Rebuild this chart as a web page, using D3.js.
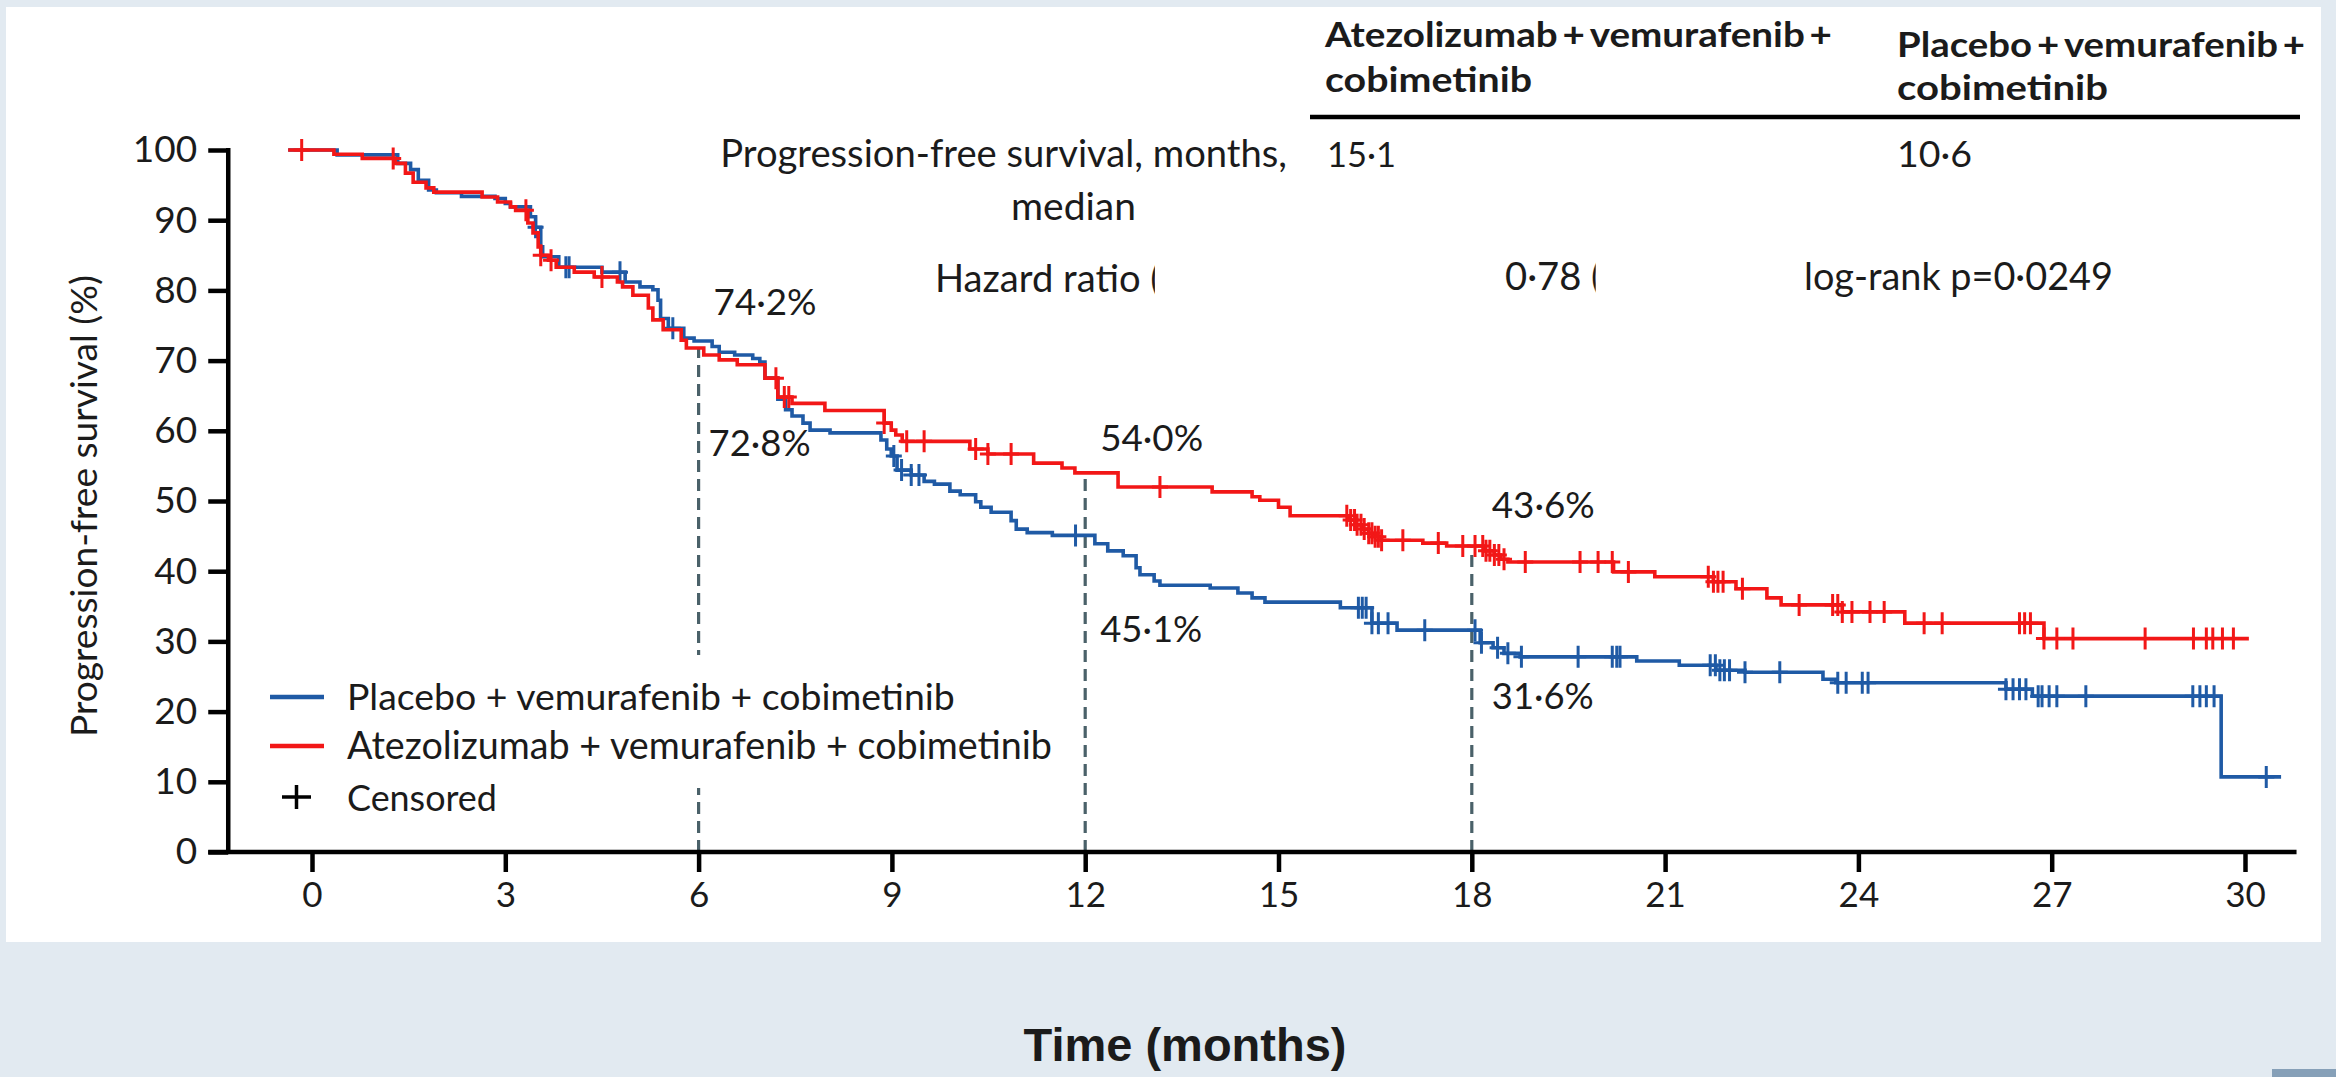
<!DOCTYPE html>
<html>
<head>
<meta charset="utf-8">
<script src="https://cdn.jsdelivr.net/npm/d3@7"></script>
<style>
  html, body { margin: 0; padding: 0; background: #e2eaf1; }
  svg { display: block; }
  text { font-family: Lato, "Open Sans", sans-serif; fill: #1b1b1b; }
</style>
</head>
<body>
<svg id="chart" width="2336" height="1077"></svg>
<script>
// ---- data -------------------------------------------------------------
const timeTicks = [0, 3, 6, 9, 12, 15, 18, 21, 24, 27, 30];
const survTicks = [0, 10, 20, 30, 40, 50, 60, 70, 80, 90, 100];

const seriesNames = [
  "Placebo + vemurafenib + cobimetinib",
  "Atezolizumab + vemurafenib + cobimetinib"
];

// Kaplan–Meier steps: [month, survival %] – survival holds until the next step
const placeboSteps = [
  [-0.37, 100], [0.39, 99.3], [1.33, 98.1], [1.53, 97.2], [1.65, 95.7], [1.81, 94.3],
  [1.93, 93.9], [2.32, 93.4], [2.84, 93.1], [3.0, 92.4], [3.08, 91.9], [3.39, 90.5],
  [3.47, 89.0], [3.55, 86.2], [3.58, 84.8], [3.83, 83.3], [4.5, 82.6], [4.86, 81.2],
  [5.09, 80.5], [5.29, 80.1], [5.37, 78.6], [5.41, 76.0], [5.53, 74.6], [5.77, 73.2],
  [5.93, 72.8], [6.21, 72.0], [6.32, 71.2], [6.56, 70.8], [6.84, 70.3], [6.95, 69.8],
  [7.03, 67.5], [7.23, 64.5], [7.35, 63.0], [7.45, 62.1], [7.62, 61.1], [7.73, 60.1],
  [8.04, 59.7], [8.83, 58.7], [8.92, 57.4], [8.99, 56.4], [9.08, 54.4], [9.3, 53.7],
  [9.5, 52.8], [9.66, 52.4], [9.9, 51.4], [10.06, 50.9], [10.3, 49.9], [10.38, 49.1],
  [10.54, 48.4], [10.85, 47.2], [10.93, 46.0], [11.1, 45.5], [11.49, 45.1], [12.15, 43.9],
  [12.35, 42.9], [12.59, 42.2], [12.79, 40.5], [12.85, 39.5], [13.07, 38.6], [13.16, 38.0],
  [13.94, 37.6], [14.37, 36.9], [14.59, 36.2], [14.79, 35.6], [15.96, 34.8], [16.45, 32.6],
  [16.84, 31.6], [18.13, 29.8], [18.33, 29.1], [18.5, 28.3], [18.75, 27.8], [20.56, 27.2],
  [21.22, 26.6], [21.79, 25.9], [22.24, 25.6], [23.45, 24.6], [23.65, 24.1], [26.29, 23.2],
  [26.7, 22.2], [29.63, 10.7], [30.56, 10.7]
];

const atezoSteps = [
  [-0.37, 100], [0.34, 99.4], [0.78, 98.8], [1.29, 98.1], [1.45, 96.7], [1.57, 95.4],
  [1.77, 94.6], [1.89, 94.0], [2.64, 93.3], [2.88, 92.6], [3.08, 91.9], [3.16, 91.4],
  [3.35, 89.6], [3.43, 88.2], [3.51, 86.2], [3.55, 85.0], [3.67, 84.3], [3.79, 83.3],
  [4.07, 82.6], [4.38, 81.9], [4.74, 81.2], [4.82, 80.5], [4.98, 79.3], [5.22, 77.5],
  [5.29, 75.8], [5.45, 74.4], [5.73, 72.9], [5.81, 71.8], [6.08, 70.8], [6.32, 70.1],
  [6.60, 69.4], [7.03, 67.5], [7.23, 64.8], [7.45, 63.9], [7.96, 62.9], [8.88, 61.1],
  [8.99, 60.1], [9.06, 59.4], [9.16, 58.5], [10.21, 57.4], [10.49, 56.7], [11.2, 55.4],
  [11.64, 54.7], [11.84, 54.0], [12.51, 52.0], [13.97, 51.3], [14.59, 50.6], [14.71, 50.1],
  [15.0, 49.1], [15.18, 47.9], [16.1, 47.3], [16.2, 46.6], [16.3, 46.0], [16.4, 45.4],
  [16.5, 44.9], [16.6, 44.4], [17.24, 44.0], [17.61, 43.6], [18.2, 42.9], [18.35, 42.3],
  [18.45, 41.7], [18.56, 41.3], [20.2, 39.9], [20.84, 39.2], [21.75, 38.5], [22.1, 37.5],
  [22.58, 36.2], [22.8, 35.2], [23.75, 34.2], [24.72, 32.6], [26.88, 30.4], [30.06, 30.4]
];

// censoring times (months)
const placeboCensored = [
  3.47, 3.94, 3.99, 4.78, 5.6, 9.03, 9.15, 9.3, 9.42, 11.85, 16.24, 16.3, 16.36, 16.45,
  16.55, 16.7, 17.27, 18.05, 18.15, 18.4, 18.56, 18.77, 19.65, 20.18, 20.25, 20.3, 21.7,
  21.78, 21.85, 21.92, 22.0, 22.24, 22.78, 23.68, 23.81, 24.06, 24.15, 26.29, 26.4, 26.5,
  26.6, 26.79, 26.85, 26.96, 27.08, 27.53, 29.19, 29.3, 29.4, 29.52, 30.33
];
const atezoCensored = [
  -0.16, 1.26, 3.32, 3.55, 3.71, 4.5, 7.2, 7.33, 7.4, 8.88, 9.23, 9.5, 10.3, 10.49, 10.85,
  13.16, 16.06, 16.12, 16.18, 16.22, 16.28, 16.33, 16.4, 16.45, 16.5, 16.55, 16.6, 16.93,
  17.48, 17.86, 18.05, 18.17, 18.22, 18.28, 18.35, 18.42, 18.5, 18.83, 19.68, 19.96, 20.18,
  20.43, 21.67, 21.75, 21.82, 21.9, 22.2, 23.08, 23.6, 23.68, 23.75, 23.9, 24.18, 24.4,
  25.02, 25.3, 26.5, 26.58, 26.67, 26.88, 27.08, 27.33, 28.45, 29.2, 29.4, 29.5, 29.65, 29.82
];

// landmark estimates
const landmarkMonths = [6, 12, 18];
const landmarkUpper = ["74·2%", "54·0%", "43·6%"];
const landmarkLower = ["72·8%", "45·1%", "31·6%"];

// summary table
const tableHeads = [
  ["Atezolizumab\u2009+\u2009vemurafenib\u2009+", "cobimetinib"],
  ["Placebo\u2009+\u2009vemurafenib\u2009+", "cobimetinib"]
];
const rowLabels = ["Progression-free survival, months,", "median", "Hazard ratio ("];
const medianPFS = ["15·1", "10·6"];
const hazardRatio = "0·78 (";
const logRankP = "log-rank p=0·0249";

// ---- drawing ----------------------------------------------------------
const RED = "#f21717", BLUE = "#1f5aa5", GUIDE = "#4a6169";
const svg = d3.select("#chart");

// scale a label's font size so that it spans the given width
function fit(sel, width) {
  const w = sel.node().getComputedTextLength();
  const fs = parseFloat(sel.attr("font-size"));
  if (w > 0) sel.attr("font-size", (fs * width / w).toFixed(2));
  return sel;
}
// keep the font size, stretch the glyph run to the given width
function stretch(sel, width) {
  return sel.attr("textLength", width).attr("lengthAdjust", "spacingAndGlyphs");
}

// white card
svg.append("rect").attr("x", 6).attr("y", 7).attr("width", 2315).attr("height", 935).attr("fill", "#fff");
// small tab at the bottom-right corner
svg.append("rect").attr("x", 2272).attr("y", 1069).attr("width", 64).attr("height", 8).attr("fill", "#86a0b8");

const x = d3.scaleLinear().domain([0, 30]).range([312, 2245]);
const y = d3.scaleLinear().domain([0, 100]).range([852, 150]);
const axisSpan = [-1.3, 30.8];   // months covered by the axis lines

const survivalAt = (steps, t) => {
  let s = steps[0][1];
  for (const [tt, v] of steps) { if (tt <= t + 1e-9) s = v; else break; }
  return s;
};

// landmark guide lines (drawn up to the atezolizumab curve)
const guides = svg.append("g");
landmarkMonths.forEach(m => {
  guides.append("line")
    .attr("x1", x(m)).attr("x2", x(m))
    .attr("y1", y(0)).attr("y2", y(survivalAt(atezoSteps, m)))
    .attr("stroke", GUIDE).attr("stroke-width", 3.2)
    .attr("stroke-dasharray", "12,7");
});

// legend card (white, sits above the guide lines)
svg.append("rect").attr("x", 262).attr("y", 655).attr("width", 800).attr("height", 133).attr("fill", "#fff");

// axes
const axisG = svg.append("g");
const yAxis = axisG.append("g").attr("transform", `translate(${x(axisSpan[0])},0)`)
  .call(d3.axisLeft(y).tickValues(survTicks).tickSize(20).tickPadding(11).tickFormat(d3.format("d")));
const xAxis = axisG.append("g").attr("transform", `translate(0,${y(0)})`)
  .call(d3.axisBottom(x).tickValues(timeTicks).tickSize(20).tickPadding(10).tickFormat(d3.format("d")));
[yAxis, xAxis].forEach(g => {
  g.attr("font-family", null);
  g.select(".domain").remove();
  g.selectAll(".tick line").attr("stroke", "#000").attr("stroke-width", 4.5);
  g.selectAll(".tick text").attr("fill", "#1b1b1b");
});
yAxis.selectAll(".tick text").attr("font-size", 37);
xAxis.selectAll(".tick text").attr("font-size", 35);
axisG.append("line")
  .attr("x1", x(axisSpan[0])).attr("x2", x(axisSpan[0]))
  .attr("y1", y(100) - 2).attr("y2", y(0) + 2)
  .attr("stroke", "#000").attr("stroke-width", 4.5);
axisG.append("line")
  .attr("x1", x(axisSpan[0]) - 20).attr("x2", x(axisSpan[1]))
  .attr("y1", y(0)).attr("y2", y(0))
  .attr("stroke", "#000").attr("stroke-width", 4.5);

// axis titles
fit(svg.append("text")
  .attr("transform", `translate(97,506) rotate(-90)`)
  .attr("text-anchor", "middle").attr("font-size", 38)
  .text("Progression-free survival (%)"), 462);
svg.append("text")
  .attr("x", 1185).attr("y", 1061).attr("text-anchor", "middle")
  .style("font-family", "'Liberation Sans', Arial, sans-serif")
  .attr("font-weight", "bold").attr("font-size", 47).attr("fill", "#000")
  .text("Time (months)");

// survival curves
const line = d3.line().x(d => x(d[0])).y(d => y(d[1])).curve(d3.curveStepAfter);
const series = [
  { steps: placeboSteps, censored: placeboCensored, color: BLUE },
  { steps: atezoSteps, censored: atezoCensored, color: RED }
];
series.forEach(s => {
  svg.append("path").datum(s.steps).attr("d", line)
    .attr("fill", "none").attr("stroke", s.color).attr("stroke-width", 3.6);
  svg.append("g").selectAll("path").data(s.censored).join("path")
    .attr("d", t => {
      const cx = x(t), cy = y(survivalAt(s.steps, t));
      return `M${cx - 8},${cy}H${cx + 8}M${cx},${cy - 11}V${cy + 11}`;
    })
    .attr("stroke", s.color).attr("stroke-width", 3).attr("fill", "none");
});

// landmark labels
const upperBase = [315, 451, 518], lowerBase = [456, 642, 709];
const upperDx = [15, 15, 20], lowerDx = [10, 15, 20];
landmarkMonths.forEach((m, i) => {
  fit(svg.append("text").attr("x", x(m) + upperDx[i]).attr("y", upperBase[i]).attr("font-size", 38).text(landmarkUpper[i]), 103);
  fit(svg.append("text").attr("x", x(m) + lowerDx[i]).attr("y", lowerBase[i]).attr("font-size", 38).text(landmarkLower[i]), 102);
});

// legend
const legend = svg.append("g");
const legendWidths = [608, 705];
[BLUE, RED].forEach((c, i) => {
  const ly = 697 + i * 49;
  legend.append("line").attr("x1", 270).attr("x2", 324).attr("y1", ly).attr("y2", ly)
    .attr("stroke", c).attr("stroke-width", 4.5);
  fit(legend.append("text").attr("x", 347).attr("y", ly + 13).attr("font-size", 38).text(seriesNames[i]), legendWidths[i]);
});
legend.append("path").attr("d", "M282,797H311M296.5,785V809").attr("stroke", "#000").attr("stroke-width", 3.5);
fit(legend.append("text").attr("x", 347).attr("y", 811).attr("font-size", 38).text("Censored"), 150);

// summary table
const table = svg.append("g");
const headX = [1325, 1897], headBase = [[47, 92], [57, 100]];
const headWidths = [[507, 207], [408, 211]];
tableHeads.forEach((lines, c) => {
  lines.forEach((t, r) => {
    stretch(table.append("text").attr("x", headX[c]).attr("y", headBase[c][r])
      .attr("font-size", 35).attr("font-weight", 700).attr("fill", "#111").text(t), headWidths[c][r]);
  });
});
table.append("line").attr("x1", 1310).attr("x2", 2300).attr("y1", 117).attr("y2", 117)
  .attr("stroke", "#000").attr("stroke-width", 4.5);
const row1 = fit(table.append("text").attr("x", 1287).attr("y", 167).attr("text-anchor", "end")
  .attr("font-size", 38).text(rowLabels[0]), 567);
const rowSize = row1.attr("font-size");
fit(table.append("text").attr("x", 1011).attr("y", 220).attr("font-size", 38).text(rowLabels[1]), 125);
const hz = table.append("text").attr("x", 935).attr("y", 292).attr("font-size", rowSize).text(rowLabels[2]);
const medianWidths = [69, 75];
medianPFS.forEach((v, c) => {
  fit(table.append("text").attr("x", headX[c] + (c === 0 ? 2 : 0)).attr("y", 167).attr("font-size", 38).text(v), medianWidths[c]);
});
const hr = table.append("text").attr("x", 1505).attr("y", 290).attr("font-size", rowSize).text(hazardRatio);
fit(table.append("text").attr("x", 1804).attr("y", 290).attr("font-size", 38).text(logRankP), 309);

// the trailing bracket of each statistic is partly masked
[hz, hr].forEach(t => {
  const node = t.node();
  const n = node.getNumberOfChars();
  const start = node.getStartPositionOfChar(n - 1).x;
  const w = node.getSubStringLength(n - 1, 1);
  table.append("rect").attr("x", start + w * 0.45).attr("y", 255).attr("width", 60).attr("height", 50).attr("fill", "#fff");
});
</script>
</body>
</html>
